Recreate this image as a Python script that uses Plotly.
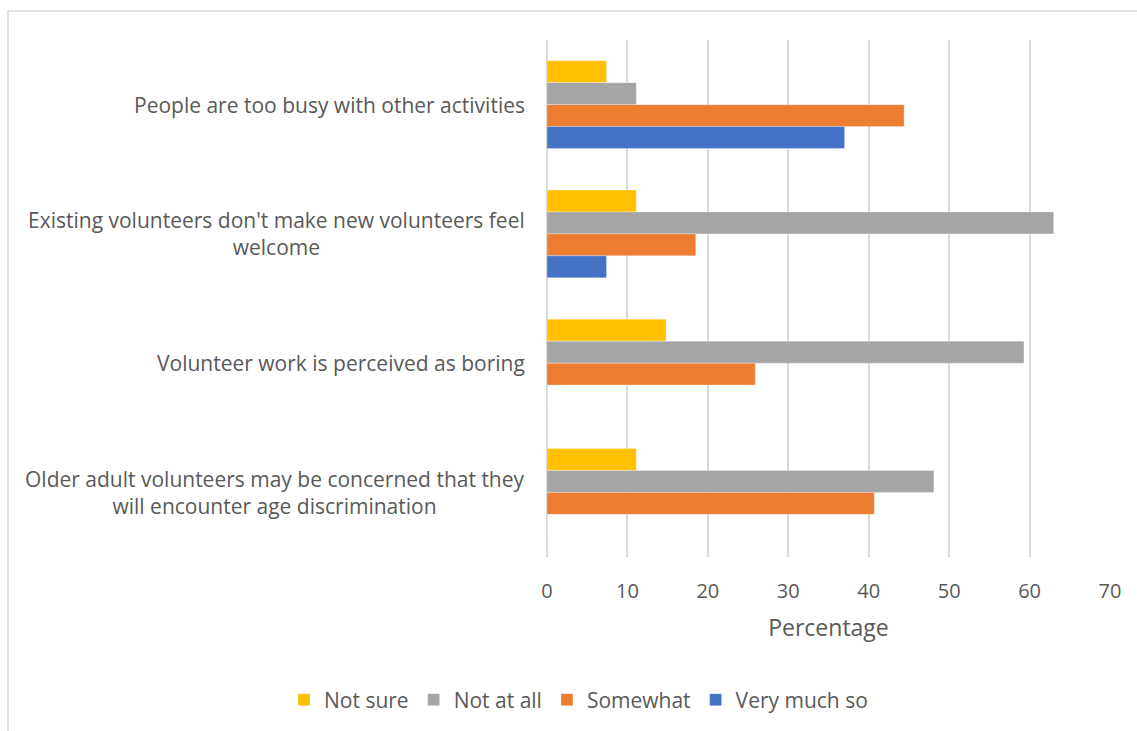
import plotly.graph_objects as go

# Survey responses (% of respondents), one list per answer
categories = [
    "People are too busy with other activities",
    "Existing volunteers don't make new volunteers feel welcome",
    "Volunteer work is perceived as boring",
    "Older adult volunteers may be concerned that they will encounter age discrimination",
]
# wrapped versions of the category names used for the axis labels
category_labels = [
    "People are too busy with other activities",
    "Existing volunteers don't make new volunteers feel<br>welcome",
    "Volunteer work is perceived as boring",
    "Older adult volunteers may be concerned that they<br>will encounter age discrimination",
]
not_sure = [7.4, 11.1, 14.8, 11.1]
not_at_all = [11.1, 63.0, 59.3, 48.1]
somewhat = [44.4, 18.5, 25.9, 40.7]
very_much_so = [37.0, 7.4, 0, 0]

x_ticks = [0, 10, 20, 30, 40, 50, 60, 70]

series = [
    ("Not sure", not_sure, "#FFC000"),
    ("Not at all", not_at_all, "#A5A5A5"),
    ("Somewhat", somewhat, "#ED7D31"),
    ("Very much so", very_much_so, "#4472C4"),
]

FONT = "Open Sans, sans-serif"
TEXT = "#595959"

fig = go.Figure()
for name, vals, color in series:
    fig.add_trace(go.Bar(
        name=name, y=categories, x=vals, orientation="h",
        marker=dict(color=color, line=dict(color="rgba(255,255,255,0.5)", width=0.6)),
    ))

# centred, wrapped category labels to the left of the bars
for cat, label in zip(categories, category_labels):
    fig.add_annotation(
        x=0, xref="paper", y=cat, yref="y", text=label, showarrow=False,
        xanchor="right", yanchor="middle", align="center", xshift=-20,
        font=dict(family=FONT, size=21, color=TEXT),
    )

fig.update_layout(
    width=1137, height=731,
    barmode="group", bargap=0.32, bargroupgap=0,
    paper_bgcolor="white", plot_bgcolor="white",
    margin=dict(l=547, r=27, t=40, b=173),
    font=dict(family=FONT, size=21, color=TEXT),
    showlegend=True,
    legend=dict(
        orientation="h", xref="paper", x=(284 - 547) / 563, xanchor="left",
        yref="paper", y=(558 - 700) / 518, yanchor="middle",
        font=dict(family=FONT, size=21, color=TEXT),
        itemwidth=30, tracegroupgap=0,
    ),
    xaxis=dict(
        range=[0, 70], tickvals=x_ticks, showgrid=True, gridcolor="#D9D9D9",
        gridwidth=1.5, zeroline=True, zerolinecolor="#D9D9D9", zerolinewidth=1.5,
        showline=False, ticks="", ticklabelstandoff=20,
        tickfont=dict(family=FONT, size=20, color=TEXT),
        title=dict(text="Percentage", standoff=16,
                   font=dict(family=FONT, size=23, color=TEXT)),
        fixedrange=True,
    ),
    yaxis=dict(
        autorange="reversed", showgrid=False, zeroline=False, showline=False,
        showticklabels=False, ticks="", fixedrange=True,
    ),
    shapes=[dict(
        type="rect", xref="paper", yref="paper",
        x0=(8 - 547) / 563, x1=1.2, y0=-0.5, y1=1 + (40 - 11) / 518,
        line=dict(color="#D9D9D9", width=1.5), fillcolor="rgba(0,0,0,0)",
        layer="below",
    )],
)

fig.write_html("out.html")
